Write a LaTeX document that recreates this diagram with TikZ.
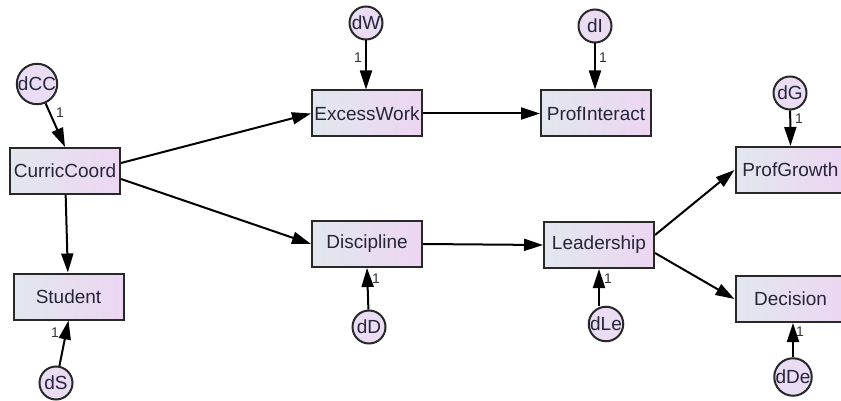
\documentclass[tikz,border=0pt]{standalone}
\usepackage{fontspec}
\setmainfont{Liberation Sans}
\usepackage{xcolor}
\usetikzlibrary{arrows.meta,shapes.geometric}
\definecolor{boxL}{RGB}{226,231,238}
\definecolor{boxR}{RGB}{237,214,242}
\definecolor{errFill}{RGB}{234,220,242}
\definecolor{txtCol}{RGB}{38,38,56}
\definecolor{edgeCol}{RGB}{40,40,40}
\tikzset{
  var/.style={draw=edgeCol,line width=2pt,left color=boxL,right color=boxR,minimum width=110pt,minimum height=46pt,inner sep=0pt,text=txtCol,font=\fontsize{19}{22}\selectfont},
  err/.style={circle,draw=edgeCol,line width=2pt,fill=errFill,minimum size=33pt,inner sep=0pt,text=txtCol,font=\fontsize{19}{22}\selectfont},
  one/.style={inner sep=0pt,text=black!80,font=\fontsize{14}{16}\selectfont},
  reg/.style={line width=2pt,->},
  >={Triangle[length=19pt,width=12pt]}
}

\begin{document}
\begin{tikzpicture}[x=1pt,y=-1pt]
        \useasboundingbox (0,0) rectangle (841,401);
        \node[var] (cc) at (65,171) {CurricCoord};
        \node[var] (stu) at (68.5,296.5) {Student};
        \node[var] (ew) at (367,113.5) {ExcessWork};
        \node[var] (pi) at (596,113.5) {ProfInteract};
        \node[var] (disc) at (367,244) {Discipline};
        \node[var] (lead) at (599,245) {Leadership};
        \node[var] (pg) at (790.5,170) {ProfGrowth};
        \node[var] (dec) at (790.5,299) {Decision};
        \node[err] (dCC) at (37,84) {dCC};
        \node[err] (dW) at (366,23) {dW};
        \node[err] (dI) at (595,26) {dI};
        \node[err] (dG) at (790,93) {dG};
        \node[err] (dS) at (56,383) {dS};
        \node[err] (dD) at (369,327) {dD};
        \node[err] (dLe) at (606,324) {dLe};
        \node[err] (dDe) at (793,377) {dDe};
        \node[one] (oneCC) at (60,113) {1};
        \node[one] (oneW) at (358,58) {1};
        \node[one] (oneI) at (603,58) {1};
        \node[one] (oneG) at (799,119) {1};
        \node[one] (oneS) at (55,333) {1};
        \node[one] (oneD) at (376,279) {1};
        \node[one] (oneLe) at (608,279) {1};
        \node[one] (oneDe) at (800,332) {1};
        \draw[reg] ([yshift=8pt]cc.east)--(ew.west);
        \draw[reg] ([yshift=-8pt]cc.east)--(disc.west);
        \draw[reg] (cc)--(stu);
        \draw[reg] (ew.east)--(pi.west);
        \draw[reg] (disc.east)--(lead.west);
        \draw[reg] ([yshift=10pt]lead.east)--(pg.west);
        \draw[reg] ([yshift=-8pt]lead.east)--(dec.west);
        \draw[reg] (dCC)--(cc.north);
        \draw[reg] (dW)--(dW |- ew.north);
        \draw[reg] (dI)--(dI |- pi.north);
        \draw[reg] (dG)--(pg.north);
        \draw[reg] (dS)--(stu.south);
        \draw[reg] (dD)--(disc.south);
        \draw[reg] (lead.south |- dLe.north)--(lead.south);
        \draw[reg] (dDe)--(dDe |- dec.south);
      \end{tikzpicture}
\end{document}
